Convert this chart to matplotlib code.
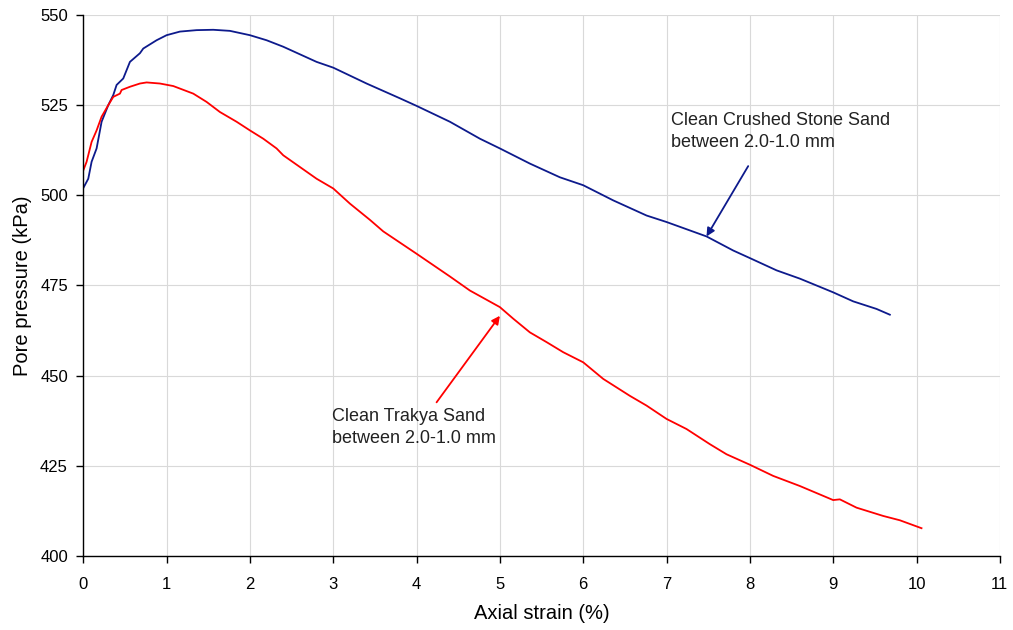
import numpy as np
import matplotlib.pyplot as plt

plt.rcParams["font.family"] = ["Liberation Sans", "DejaVu Sans"]

# Clean Crushed Stone Sand, 2.0-1.0 mm: axial strain (%) vs pore pressure (kPa)
strain_stone = [0.0, 0.06, 0.10, 0.16, 0.22, 0.30, 0.36, 0.40, 0.48, 0.56, 0.68, 0.72,
                0.88, 1.00, 1.16, 1.36, 1.56, 1.76, 2.00, 2.20, 2.40, 2.80, 3.00, 3.40,
                3.80, 4.00, 4.40, 4.76, 5.00, 5.36, 5.72, 6.00, 6.36, 6.76, 7.00, 7.48,
                7.80, 8.00, 8.32, 8.60, 9.00, 9.24, 9.52, 9.68]
pore_stone = [502.0, 504.6, 509.3, 513.0, 520.4, 525.0, 527.8, 530.6, 532.4, 537.0, 539.4, 540.7,
              543.0, 544.4, 545.4, 545.8, 545.9, 545.6, 544.4, 543.0, 541.2, 537.0, 535.4, 531.0,
              526.9, 524.8, 520.4, 515.7, 513.0, 508.8, 505.0, 502.8, 498.6, 494.4, 492.6, 488.6,
              484.7, 482.6, 479.2, 476.9, 473.1, 470.6, 468.5, 466.9]

# Clean Trakya Sand, 2.0-1.0 mm
strain_trakya = [0.0, 0.04, 0.10, 0.16, 0.22, 0.30, 0.36, 0.44, 0.46, 0.56, 0.68, 0.76,
                 0.92, 1.08, 1.32, 1.48, 1.64, 1.84, 2.00, 2.16, 2.32, 2.40, 2.80, 3.00,
                 3.20, 3.44, 3.60, 4.00, 4.40, 4.64, 5.00, 5.16, 5.36, 5.56, 5.76, 6.00,
                 6.24, 6.56, 6.76, 7.00, 7.24, 7.52, 7.72, 8.00, 8.28, 8.60, 9.00, 9.08,
                 9.28, 9.60, 9.80, 10.06]
pore_trakya = [506.9, 509.3, 514.8, 518.0, 521.8, 525.0, 527.3, 528.2, 529.2, 530.1, 531.0, 531.3,
               531.0, 530.3, 528.2, 525.9, 523.1, 520.4, 518.0, 515.7, 513.0, 511.1, 504.6, 501.9,
               497.7, 493.2, 490.0, 483.8, 477.5, 473.6, 469.0, 465.8, 462.0, 459.3, 456.5, 453.7,
               449.1, 444.4, 441.7, 438.0, 435.2, 431.0, 428.2, 425.3, 422.2, 419.4, 415.5, 415.7,
               413.4, 411.1, 409.9, 407.7]

blue = "#0d1a8c"
red = "#ff0000"
text_color = "#222222"

fig = plt.figure(figsize=(10.13, 6.30), dpi=100)
ax = fig.add_axes([0.0822, 0.1175, 0.9048, 0.8587])

ax.plot(strain_stone, pore_stone, color=blue, lw=1.3)
ax.plot(strain_trakya, pore_trakya, color=red, lw=1.3)

ax.set_xlim(0, 11)
ax.set_ylim(400, 550)
ax.set_xticks(np.arange(0, 12, 1))
ax.set_yticks(np.arange(400, 551, 25))
ax.grid(True, color="#d9d9d9", lw=0.8)
ax.set_axisbelow(True)

for s in ["top", "right"]:
    ax.spines[s].set_visible(False)
for s in ["left", "bottom"]:
    ax.spines[s].set_linewidth(1.0)
ax.tick_params(direction="out", length=5, width=1, labelsize=12, pad=6)
ax.tick_params(axis="x", pad=10)

ax.set_xlabel("Axial strain (%)", fontsize=14.5, labelpad=9)
ax.set_ylabel("Pore pressure (kPa)", fontsize=14.5, labelpad=6)

# labels with arrows pointing at each curve
arrow = dict(arrowstyle="-|>", lw=1.3, mutation_scale=12, shrinkA=0, shrinkB=0)
ax.annotate("", xy=(7.48, 488.6), xytext=(7.98, 508.1),
            arrowprops=dict(arrow, color=blue))
ax.text(7.05, 523.0, "Clean Crushed Stone Sand\nbetween 2.0-1.0 mm",
        fontsize=13, color=text_color, ha="left", va="top", linespacing=1.35)

ax.annotate("", xy=(5.0, 466.6), xytext=(4.24, 442.6),
            arrowprops=dict(arrow, color=red))
ax.text(2.99, 441.0, "Clean Trakya Sand\nbetween 2.0-1.0 mm",
        fontsize=13, color=text_color, ha="left", va="top", linespacing=1.35)

fig.savefig("out.png", dpi=100)
